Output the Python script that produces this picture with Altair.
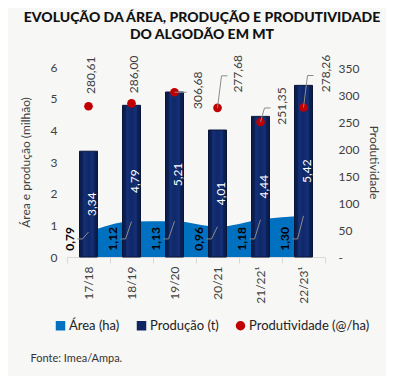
import altair as alt
import pandas as pd

# ---------------- data ----------------
categories = ["17/18", "18/19", "19/20", "20/21", "21/22¹", "22/23¹"]
area_mha = [0.79, 1.12, 1.13, 0.96, 1.18, 1.30]
production_mt = [3.34, 4.79, 5.21, 4.01, 4.44, 5.42]
productivity = [280.61, 286.00, 306.68, 277.68, 251.35, 278.26]
series_names = ["Área (ha)", "Produção (t)", "Produtividade (@/ha)"]
series_colors = ["#0070C0", "#0F2660", "#C00000"]
series_shapes = ["square", "square", "circle"]


def br(v):
    return f"{v:.2f}".replace(".", ",")


df = pd.DataFrame({
    "cat": categories,
    "area": area_mha,
    "prod": production_mt,
    "yld": productivity,
})
df["area_lbl"] = [br(v) for v in area_mha]
df["prod_lbl"] = [br(v) for v in production_mt]
df["yld_lbl"] = [br(v) for v in productivity]
df["prod_mid"] = df["prod"] / 2

legend_df = pd.DataFrame({"series": series_names, "cat": categories[:3], "dummy": [None, None, None]})

FONT = "Lato"
TXT = "#404040"

# ---------------- scales / axes ----------------
x_enc = alt.X(
    "cat:N",
    sort=categories,
    scale=alt.Scale(paddingInner=0, paddingOuter=0),
    axis=alt.Axis(
        title="Fonte: Imea/Ampa.",
        titleAnchor="start",
        titleAlign="left",
        titleX=-37,
        titleY=95,
        titleFont=FONT,
        titleFontSize=11,
        titleFontWeight="normal",
        titleColor="#333333",
        labelAngle=270,
        labelFont=FONT,
        labelFontSize=12,
        labelColor=TXT,
        labelPadding=3,
        domainColor="#d9d9d9",
        tickColor="#d9d9d9",
        tickSize=6,
        tickBand="extent",
    ),
)

left_axis = alt.Axis(
    title="Área e produção (milhão)",
    values=[0, 1, 2, 3, 4, 5, 6],
    grid=False,
    domain=False,
    ticks=False,
    labelPadding=10,
    labelFont=FONT,
    labelFontSize=12,
    labelColor=TXT,
    titleFont=FONT,
    titleFontSize=12,
    titleFontWeight="normal",
    titleColor=TXT,
    titlePadding=18,
)
left_scale = alt.Scale(domain=[0, 6], nice=False)

right_axis = alt.Axis(
    orient="right",
    title="Produtividade",
    titleAngle=90,
    values=[0, 50, 100, 150, 200, 250, 300, 350],
    labelExpr="datum.value == 0 ? '-' : datum.label",
    grid=False,
    domain=False,
    ticks=False,
    labelPadding=13,
    labelFont=FONT,
    labelFontSize=12,
    labelColor=TXT,
    titleFont=FONT,
    titleFontSize=12,
    titleFontWeight="normal",
    titleColor=TXT,
    titlePadding=8,
)
right_scale = alt.Scale(domain=[0, 353.7], nice=False)

base = alt.Chart(df)

# ---------------- left group ----------------
area = base.mark_area(interpolate="monotone", color="#0070C0").encode(
    x=x_enc, y=alt.Y("area:Q", scale=left_scale, axis=left_axis)
)

bar_fill = alt.Gradient(
    gradient="linear", x1=0, x2=1, y1=0, y2=0,
    stops=[
        alt.GradientStop(offset=0, color="#0a1a44"),
        alt.GradientStop(offset=0.18, color="#0d2258"),
        alt.GradientStop(offset=0.24, color="#14307a"),
        alt.GradientStop(offset=0.5, color="#0f2866"),
        alt.GradientStop(offset=0.76, color="#14307a"),
        alt.GradientStop(offset=0.82, color="#0d2258"),
        alt.GradientStop(offset=1, color="#0a1a44"),
    ],
)
bars = base.mark_bar(size=18, fill=bar_fill, stroke="#0a163a", strokeWidth=1).encode(
    x=x_enc, y=alt.Y("prod:Q", scale=left_scale, axis=left_axis)
)

bar_labels = base.mark_text(
    angle=270, align="center", baseline="middle", dy=3,
    font=FONT, fontSize=12, color="white",
).encode(
    x=x_enc, y=alt.Y("prod_mid:Q", scale=left_scale, axis=left_axis), text="prod_lbl:N"
)

area_labels = base.mark_text(
    angle=270, align="center", baseline="middle", dy=-19,
    font=FONT, fontSize=12, fontWeight="bold", color="#000000",
).encode(
    x=x_enc, y=alt.Y(datum=0.57, scale=left_scale, axis=left_axis), text="area_lbl:N"
)

leader_style = dict(color="#8c8c8c", strokeWidth=1)
area_lead1 = base.mark_rule(x2Offset=-6, **leader_style).encode(
    x=x_enc, x2="cat:N",
    y=alt.Y("area:Q", scale=left_scale, axis=left_axis), y2=alt.datum(0.57),
)
area_lead2 = base.mark_rule(xOffset=-6, x2Offset=-11, **leader_style).encode(
    x=x_enc, x2="cat:N",
    y=alt.Y(datum=0.57, scale=left_scale, axis=left_axis),
)

legend_layer = alt.Chart(legend_df).mark_point(filled=True, opacity=1).encode(
    x=x_enc,
    y=alt.Y("dummy:Q", scale=left_scale, axis=left_axis),
    color=alt.Color(
        "series:N",
        scale=alt.Scale(domain=series_names, range=series_colors),
        legend=alt.Legend(
            title=None, orient="none", direction="horizontal",
            legendX=-13, legendY=252,
            labelFont=FONT, labelFontSize=13, labelColor="#222222",
            symbolSize=90, labelOffset=2, columnPadding=15,
            symbolStrokeWidth=0,
        ),
    ),
    shape=alt.Shape(
        "series:N",
        scale=alt.Scale(domain=series_names, range=series_shapes),
        legend=None,
    ),
)

left = alt.layer(area, bars, area_lead1, area_lead2, area_labels, bar_labels, legend_layer)

# ---------------- right group ----------------
y_right = alt.Y("yld:Q", scale=right_scale, axis=right_axis)
points = base.mark_circle(size=75, color="#C00000", opacity=1).encode(x=x_enc, y=y_right)

# label offsets: (pixels right, pixels up) of label centre from the point
label_shift = {
    "17/18": (2, 31),
    "18/19": (2, 29),
    "19/20": (23, 2),
    "20/21": (20, 34),
    "21/22¹": (21, 16),
    "22/23¹": (22, 34),
}
right_layers = [points]
for cat, (rx, up) in label_shift.items():
    right_layers.append(
        base.transform_filter(alt.datum.cat == cat).mark_text(
            angle=270, align="center", baseline="middle", dx=up, dy=rx,
            font=FONT, fontSize=12, color=TXT,
        ).encode(x=x_enc, y=y_right, text="yld_lbl:N")
    )

# leader lines for labels that were moved aside
right_layers.append(
    base.transform_filter(alt.datum.cat == "19/20").mark_rule(x2Offset=12, **leader_style).encode(
        x=x_enc, x2="cat:N", y=y_right, y2="yld:Q"
    )
)
for cat, up in [("20/21", 32), ("21/22¹", 14), ("22/23¹", 32)]:
    right_layers.append(
        base.transform_filter(alt.datum.cat == cat).mark_rule(
            x2Offset=4, y2Offset=-up, **leader_style
        ).encode(x=x_enc, x2="cat:N", y=y_right, y2="yld:Q")
    )
    right_layers.append(
        base.transform_filter(alt.datum.cat == cat).mark_rule(
            xOffset=4, x2Offset=10, yOffset=-up, y2Offset=-up, **leader_style
        ).encode(x=x_enc, x2="cat:N", y=y_right, y2="yld:Q")
    )

right = alt.layer(*right_layers)

chart = (
    alt.layer(left, right)
    .resolve_scale(y="independent", color="independent", shape="independent")
    .properties(
        width=258,
        height=190,
        background="#f7f7f5",
        autosize=alt.AutoSizeParams(type="none"),
        padding={"left": 59, "top": 59, "right": 61, "bottom": 119},
        title=alt.TitleParams(
            text=["EVOLUÇÃO DA ÁREA, PRODUÇÃO E PRODUTIVIDADE", "DO ALGODÃO EM MT"],
            font=FONT, fontSize=14, fontWeight=900, color="#111111",
            anchor="middle", dx=6, lineHeight=17, offset=13,
        ),
    )
    .configure_view(stroke=None)
)

chart.save("out.html", embed_options={"renderer": "svg", "actions": False})
